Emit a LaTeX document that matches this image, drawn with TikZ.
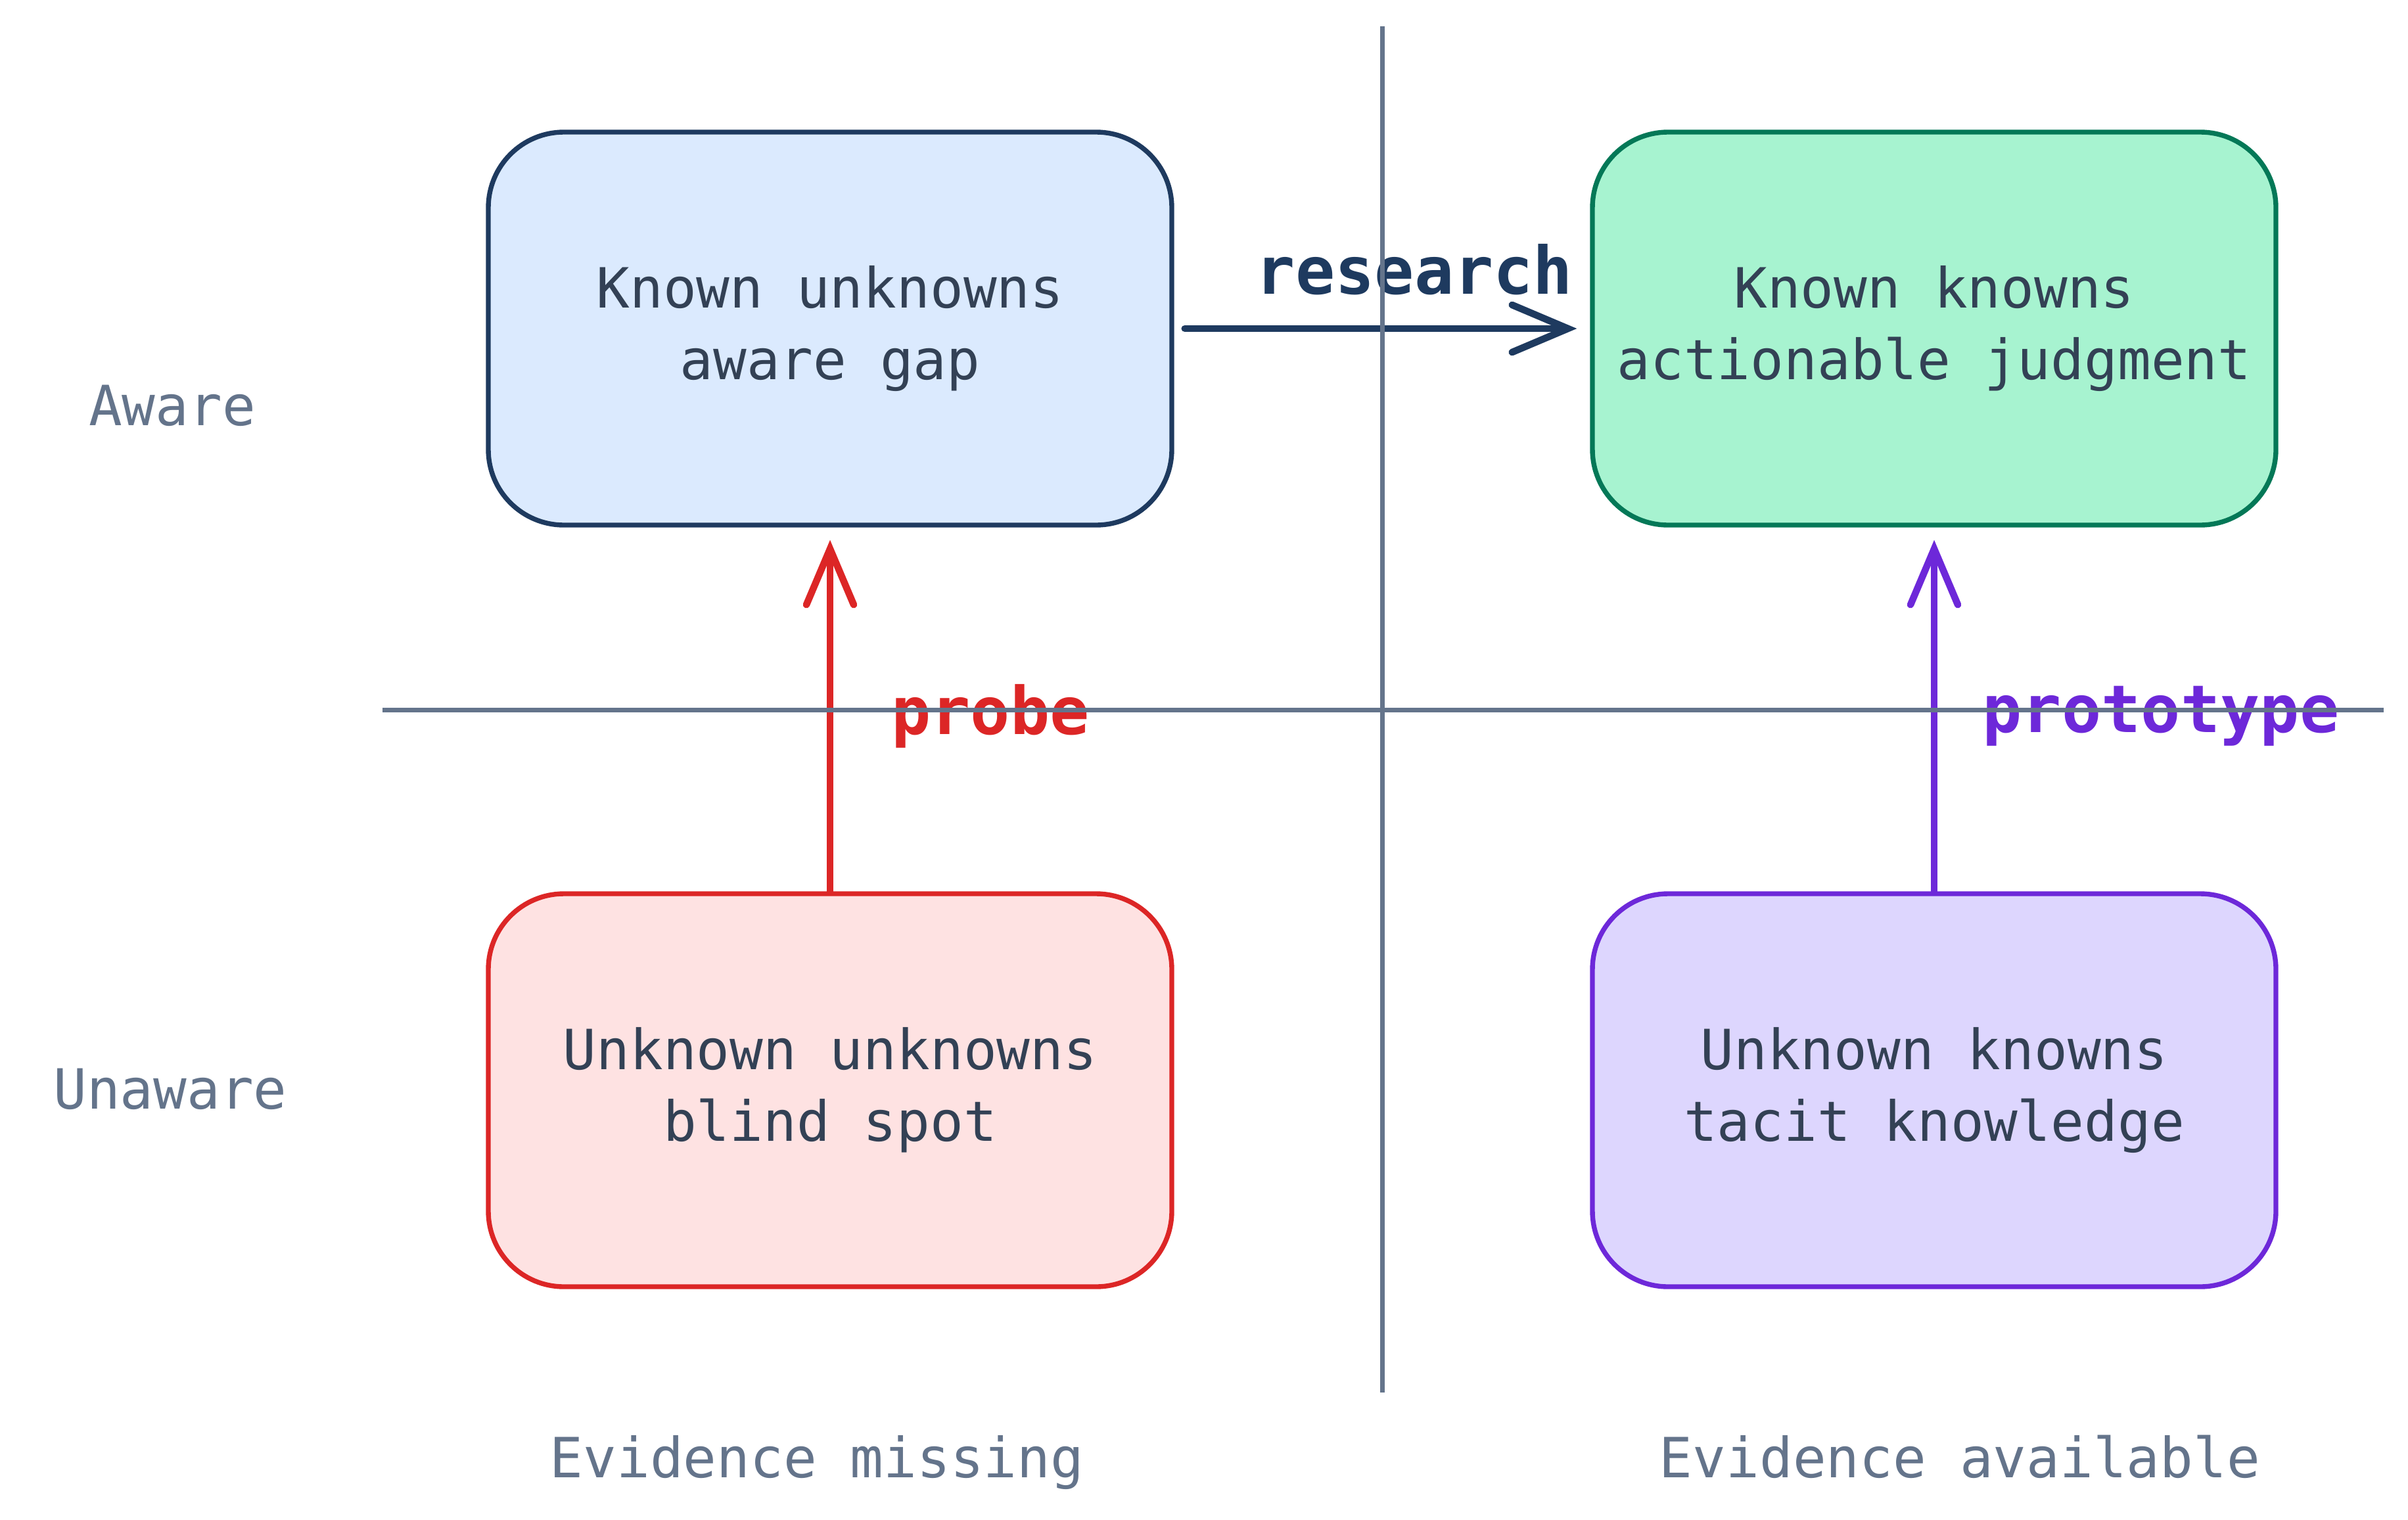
\documentclass[tikz,border=0pt]{standalone}
\usepackage{fontspec}
\setmainfont{DejaVu Sans Mono}
\usepackage{tikz}
\usetikzlibrary{arrows.meta}

\definecolor{slatetxt}{HTML}{334155}
\definecolor{slateax}{HTML}{64748B}
\definecolor{navy}{HTML}{1E3A5F}
\definecolor{bluefill}{HTML}{DBEAFE}
\definecolor{grnline}{HTML}{047857}
\definecolor{grnfill}{HTML}{A7F3D0}
\definecolor{redline}{HTML}{DC2626}
\definecolor{redfill}{HTML}{FEE2E2}
\definecolor{purline}{HTML}{6D28D9}
\definecolor{purfill}{HTML}{DDD6FE}

\begin{document}
\begin{tikzpicture}[
        quad/.style={rectangle, rounded corners=1.15cm, line width=2.1pt,
            minimum width=10.4cm, minimum height=5.98cm, align=center,
            text=slatetxt, font=\fontsize{24}{31}\selectfont},
        axislbl/.style={text=slateax, font=\fontsize{24}{30}\selectfont},
        axisline/.style={slateax, line width=2pt},
        move/.style={line width=3pt, line cap=round,
            -{Straight Barb[length=8.5mm, width=7.2mm, line cap=round]}},
        movelbl/.style={font=\bfseries\fontsize{28.5}{34}\selectfont}
    ]
        \useasboundingbox (0,0) rectangle (36.64,-23.12);

        % quadrants
        \node[quad, draw=navy, fill=bluefill] (ku) at (12.63,-5.00) {Known unknowns\\aware gap};
        \node[quad, draw=grnline, fill=grnfill] (kk) at (29.43,-5.00) {Known knowns\\actionable judgment};
        \node[quad, draw=redline, fill=redfill] (uu) at (12.63,-16.59) {Unknown unknowns\\blind spot};
        \node[quad, draw=purline, fill=purfill] (uk) at (29.43,-16.59) {Unknown knowns\\tacit knowledge};

        % axis labels
        \node[axislbl] (aware) at (2.62,-6.17) {Aware};
        \node[axislbl] (unaware) at (2.59,-16.57) {Unaware};
        \node[axislbl, anchor=base] (evmiss) at (12.43,-22.48) {Evidence missing};
        \node[axislbl, anchor=base] (evavail) at (29.82,-22.48) {Evidence available};

        % moves between quadrants
        \draw[move, navy, shorten <=0.16cm, shorten >=0.2cm] (ku.east) -- (kk.west);
        \draw[move, redline, shorten >=0.19cm] (uu.north) -- (ku.south);
        \draw[move, purline, shorten >=0.19cm] (uk.north) -- (kk.south);
        \node[movelbl, text=navy] (research) at (21.52,-4.10) {research};
        \node[movelbl, text=redline] (probe) at (15.07,-10.90) {probe};
        \node[movelbl, text=purline] (prototype) at (32.88,-10.90) {prototype};

        % axes on top
        \coordinate (vtop) at (21.03,-0.40);
        \coordinate (vbot) at (21.03,-21.19);
        \coordinate (hleft) at (5.82,-10.80);
        \coordinate (hright) at (36.27,-10.80);
        \draw[axisline] (vtop) -- (vbot);
        \draw[axisline] (hleft) -- (hright);
\end{tikzpicture}
\end{document}
